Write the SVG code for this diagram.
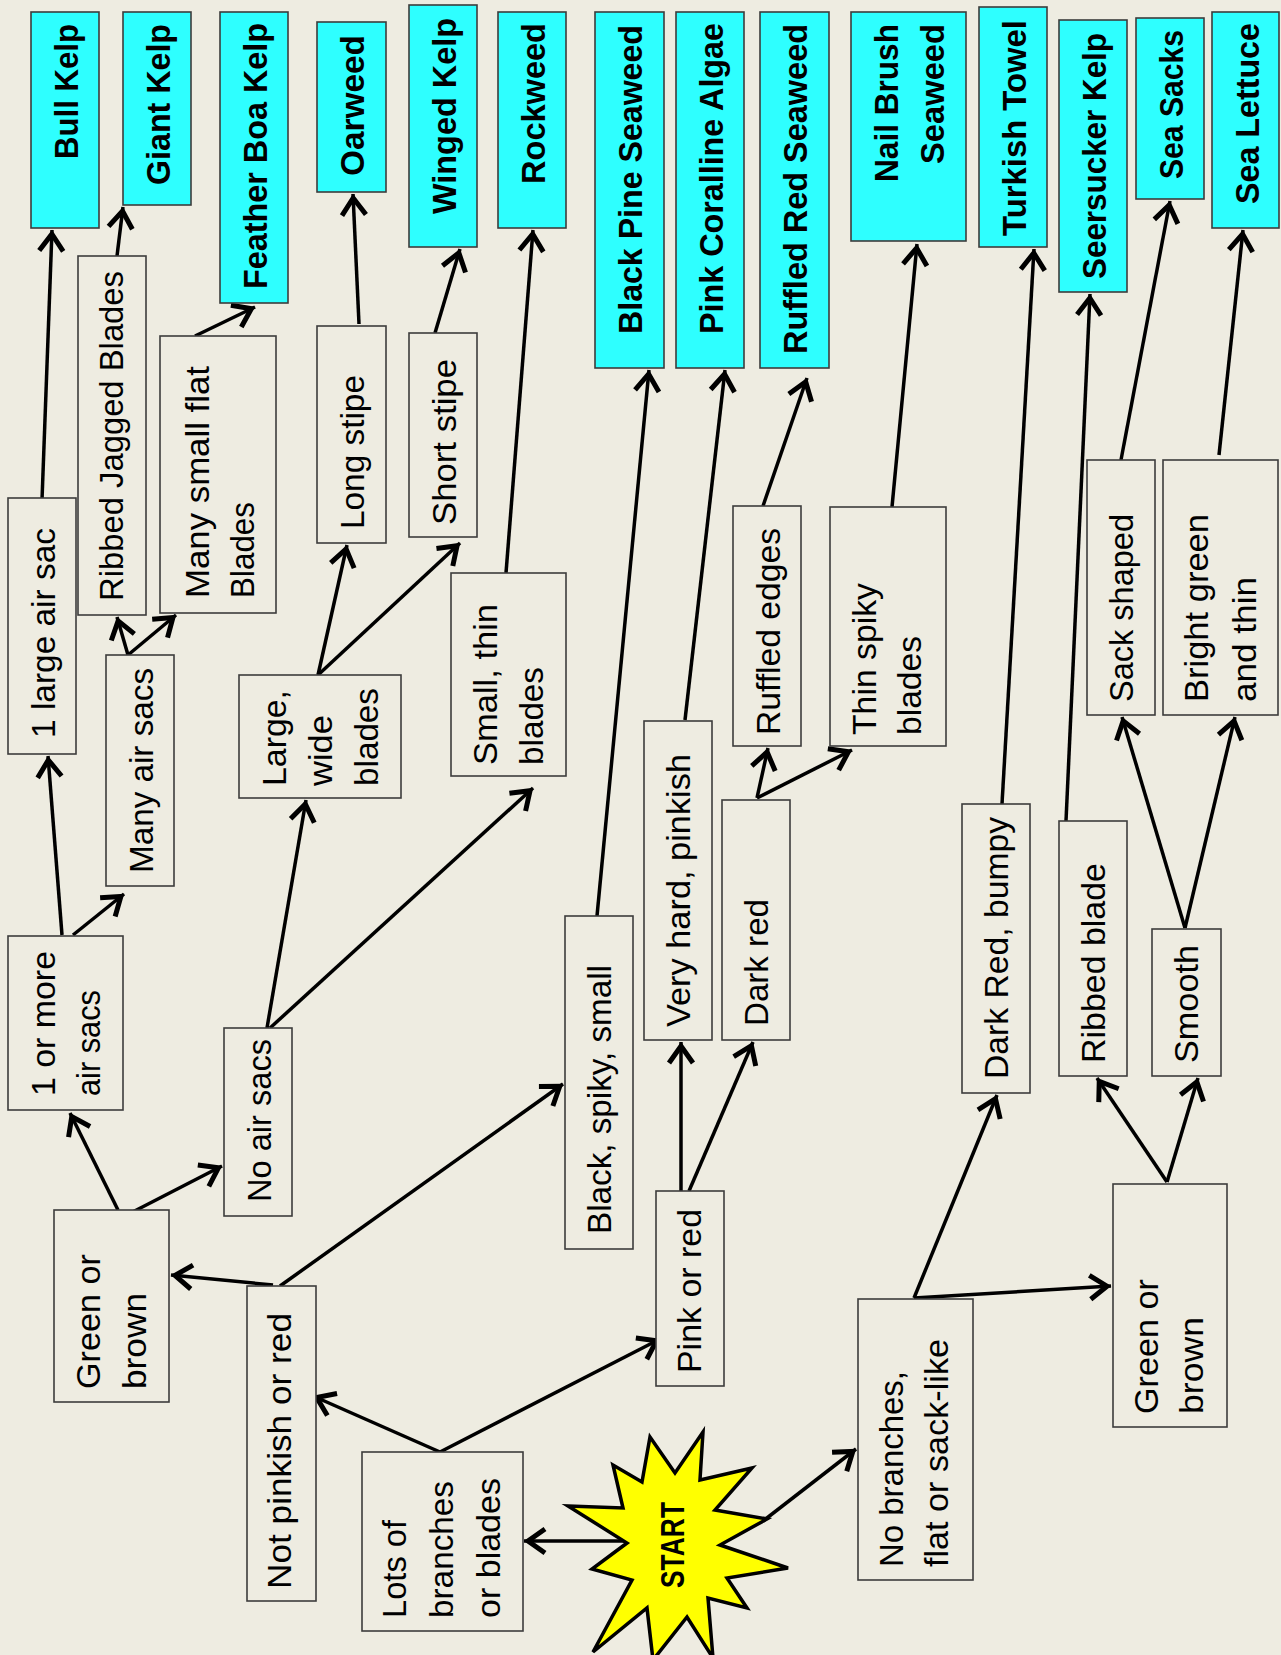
<svg xmlns="http://www.w3.org/2000/svg" width="1281" height="1655" viewBox="0 0 1281 1655">
<defs>
<style>
.box{fill:#EEECE1;stroke:#3c3c3c;stroke-width:1.6}
.leaf{fill:#2EFFFF;stroke:#3c3c3c;stroke-width:1.6}
.t{font-family:"Liberation Sans",Arial,sans-serif;font-size:33px;fill:#000}
.b{font-family:"Liberation Sans",Arial,sans-serif;font-size:33px;font-weight:bold;fill:#000}
.e{stroke:#000;stroke-width:3.5;fill:none;marker-end:url(#arr)}
</style>
<marker id="arr" markerUnits="userSpaceOnUse" viewBox="-30 -20 40 40" markerWidth="40" markerHeight="40" refX="0" refY="0" orient="auto">
<path d="M-21,-12 L-4,0 L-21,12" fill="none" stroke="#000" stroke-width="5"/>
</marker>
</defs>
<rect width="1281" height="1655" fill="#EEECE1"/>

<g id="connectors">
<line class="e" x1="42" y1="500" x2="52" y2="230"/>
<line class="e" x1="62" y1="935" x2="48" y2="756"/>
<line class="e" x1="73" y1="935" x2="124" y2="894"/>
<line class="e" x1="128" y1="655" x2="117" y2="617"/>
<line class="e" x1="128" y1="655" x2="176" y2="615"/>
<line class="e" x1="117" y1="256" x2="123" y2="207"/>
<line class="e" x1="195" y1="336" x2="255" y2="307"/>
<line class="e" x1="359" y1="324" x2="353" y2="194"/>
<line class="e" x1="435" y1="333" x2="460" y2="249"/>
<line class="e" x1="506" y1="573" x2="533" y2="230"/>
<line class="e" x1="597" y1="916" x2="649" y2="370"/>
<line class="e" x1="685" y1="720" x2="725" y2="370"/>
<line class="e" x1="763" y1="506" x2="807" y2="378"/>
<line class="e" x1="892" y1="507" x2="917" y2="244"/>
<line class="e" x1="1002" y1="804" x2="1034" y2="249"/>
<line class="e" x1="1066" y1="821" x2="1090" y2="294"/>
<line class="e" x1="1121" y1="460" x2="1170" y2="201"/>
<line class="e" x1="1219" y1="455" x2="1243" y2="230"/>
<line class="e" x1="1185" y1="928" x2="1122" y2="717"/>
<line class="e" x1="1185" y1="928" x2="1235" y2="717"/>
<line class="e" x1="757" y1="798" x2="768" y2="748"/>
<line class="e" x1="757" y1="798" x2="852" y2="750"/>
<line class="e" x1="318" y1="675" x2="347" y2="545"/>
<line class="e" x1="318" y1="675" x2="460" y2="543"/>
<line class="e" x1="267" y1="1028" x2="306" y2="800"/>
<line class="e" x1="270" y1="1028" x2="533" y2="788"/>
<line class="e" x1="118" y1="1210" x2="70" y2="1113"/>
<line class="e" x1="121" y1="1218" x2="222" y2="1166"/>
<line class="e" x1="273" y1="1285" x2="171" y2="1275"/>
<line class="e" x1="280" y1="1286" x2="563" y2="1084"/>
<line class="e" x1="440" y1="1452" x2="313" y2="1396"/>
<line class="e" x1="440" y1="1452" x2="660" y2="1339"/>
<line class="e" x1="681" y1="1191" x2="681" y2="1042"/>
<line class="e" x1="689" y1="1191" x2="753" y2="1042"/>
<line class="e" x1="627" y1="1541" x2="524" y2="1541"/>
<line class="e" x1="763" y1="1521" x2="856" y2="1449"/>
<line class="e" x1="914" y1="1298" x2="997" y2="1095"/>
<line class="e" x1="914" y1="1298" x2="1111" y2="1286"/>
<line class="e" x1="1167" y1="1182" x2="1097" y2="1078"/>
<line class="e" x1="1167" y1="1182" x2="1198" y2="1078"/>
</g>

<g id="n_bull"><rect class="leaf" x="31" y="12" width="68" height="216"/><text class="b" transform="translate(78,159) rotate(-90)" textLength="135" lengthAdjust="spacingAndGlyphs">Bull Kelp</text></g>
<g id="n_giant"><rect class="leaf" x="123" y="12" width="68" height="193"/><text class="b" transform="translate(170,185) rotate(-90)" textLength="161" lengthAdjust="spacingAndGlyphs">Giant Kelp</text></g>
<g id="n_feather"><rect class="leaf" x="220" y="12" width="68" height="291"/><text class="b" transform="translate(267,289) rotate(-90)" textLength="266" lengthAdjust="spacingAndGlyphs">Feather Boa Kelp</text></g>
<g id="n_oarweed"><rect class="leaf" x="317" y="22" width="69" height="170"/><text class="b" transform="translate(364,176) rotate(-90)" textLength="141" lengthAdjust="spacingAndGlyphs">Oarweed</text></g>
<g id="n_winged"><rect class="leaf" x="409" y="5" width="68" height="242"/><text class="b" transform="translate(456,214) rotate(-90)" textLength="196" lengthAdjust="spacingAndGlyphs">Winged Kelp</text></g>
<g id="n_rockweed"><rect class="leaf" x="498" y="12" width="68" height="216"/><text class="b" transform="translate(545,184) rotate(-90)" textLength="161" lengthAdjust="spacingAndGlyphs">Rockweed</text></g>
<g id="n_blackpine"><rect class="leaf" x="595" y="12" width="69" height="356"/><text class="b" transform="translate(642,334) rotate(-90)" textLength="309" lengthAdjust="spacingAndGlyphs">Black Pine Seaweed</text></g>
<g id="n_pinkcoralline"><rect class="leaf" x="676" y="12" width="68" height="356"/><text class="b" transform="translate(723,334) rotate(-90)" textLength="311" lengthAdjust="spacingAndGlyphs">Pink Coralline Algae</text></g>
<g id="n_ruffledred"><rect class="leaf" x="760" y="12" width="69" height="356"/><text class="b" transform="translate(807,354) rotate(-90)" textLength="330" lengthAdjust="spacingAndGlyphs">Ruffled Red Seaweed</text></g>
<g id="n_nailbrush"><rect class="leaf" x="851" y="12" width="115" height="229"/><text class="b" transform="translate(898,182) rotate(-90)" textLength="158" lengthAdjust="spacingAndGlyphs">Nail Brush</text><text class="b" transform="translate(944,164) rotate(-90)" textLength="140" lengthAdjust="spacingAndGlyphs">Seaweed</text></g>
<g id="n_turkish"><rect class="leaf" x="979" y="7" width="68" height="240"/><text class="b" transform="translate(1026,236) rotate(-90)" textLength="216" lengthAdjust="spacingAndGlyphs">Turkish Towel</text></g>
<g id="n_seersucker"><rect class="leaf" x="1059" y="20" width="68" height="272"/><text class="b" transform="translate(1106,279) rotate(-90)" textLength="246" lengthAdjust="spacingAndGlyphs">Seersucker Kelp</text></g>
<g id="n_seasacks"><rect class="leaf" x="1136" y="18" width="68" height="181"/><text class="b" transform="translate(1183,179) rotate(-90)" textLength="149" lengthAdjust="spacingAndGlyphs">Sea Sacks</text></g>
<g id="n_sealettuce"><rect class="leaf" x="1212" y="12" width="67" height="216"/><text class="b" transform="translate(1259,204) rotate(-90)" textLength="181" lengthAdjust="spacingAndGlyphs">Sea Lettuce</text></g>

<g id="n_1large"><rect class="box" x="8" y="498" width="68" height="256"/><text class="t" transform="translate(55,738) rotate(-90)" textLength="210" lengthAdjust="spacingAndGlyphs">1 large air sac</text></g>
<g id="n_ribbedjagged"><rect class="box" x="78" y="256" width="68" height="359"/><text class="t" transform="translate(123,601) rotate(-90)" textLength="330" lengthAdjust="spacingAndGlyphs">Ribbed Jagged Blades</text></g>
<g id="n_manysmall"><rect class="box" x="160" y="336" width="116" height="277"/><text class="t" transform="translate(209,598) rotate(-90)" textLength="232" lengthAdjust="spacingAndGlyphs">Many small flat</text><text class="t" transform="translate(254,598) rotate(-90)" textLength="96" lengthAdjust="spacingAndGlyphs">Blades</text></g>
<g id="n_longstipe"><rect class="box" x="317" y="326" width="69" height="217"/><text class="t" transform="translate(364,529) rotate(-90)" textLength="154" lengthAdjust="spacingAndGlyphs">Long stipe</text></g>
<g id="n_shortstipe"><rect class="box" x="409" y="333" width="68" height="204"/><text class="t" transform="translate(456,525) rotate(-90)" textLength="166" lengthAdjust="spacingAndGlyphs">Short stipe</text></g>
<g id="n_manyair"><rect class="box" x="106" y="655" width="68" height="231"/><text class="t" transform="translate(153,873) rotate(-90)" textLength="205" lengthAdjust="spacingAndGlyphs">Many air sacs</text></g>
<g id="n_1ormore"><rect class="box" x="8" y="936" width="115" height="174"/><text class="t" transform="translate(55,1096) rotate(-90)" textLength="145" lengthAdjust="spacingAndGlyphs">1 or more</text><text class="t" transform="translate(100,1096) rotate(-90)" textLength="106" lengthAdjust="spacingAndGlyphs">air sacs</text></g>
<g id="n_largewide"><rect class="box" x="239" y="675" width="162" height="123"/><text class="t" transform="translate(286,786) rotate(-90)" textLength="96" lengthAdjust="spacingAndGlyphs">Large,</text><text class="t" transform="translate(332,786) rotate(-90)" textLength="71" lengthAdjust="spacingAndGlyphs">wide</text><text class="t" transform="translate(378,786) rotate(-90)" textLength="98" lengthAdjust="spacingAndGlyphs">blades</text></g>
<g id="n_smallthin"><rect class="box" x="451" y="573" width="115" height="203"/><text class="t" transform="translate(497,765) rotate(-90)" textLength="161" lengthAdjust="spacingAndGlyphs">Small, thin</text><text class="t" transform="translate(543,765) rotate(-90)" textLength="98" lengthAdjust="spacingAndGlyphs">blades</text></g>
<g id="n_noair"><rect class="box" x="224" y="1028" width="68" height="188"/><text class="t" transform="translate(271,1202) rotate(-90)" textLength="163" lengthAdjust="spacingAndGlyphs">No air sacs</text></g>
<g id="n_greenbrown1"><rect class="box" x="54" y="1210" width="115" height="192"/><text class="t" transform="translate(100,1389) rotate(-90)" textLength="135" lengthAdjust="spacingAndGlyphs">Green or</text><text class="t" transform="translate(146,1389) rotate(-90)" textLength="96" lengthAdjust="spacingAndGlyphs">brown</text></g>
<g id="n_notpink"><rect class="box" x="247" y="1286" width="69" height="315"/><text class="t" transform="translate(291,1589) rotate(-90)" textLength="276" lengthAdjust="spacingAndGlyphs">Not pinkish or red</text></g>
<g id="n_lots"><rect class="box" x="362" y="1452" width="161" height="179"/><text class="t" transform="translate(406,1618) rotate(-90)" textLength="98" lengthAdjust="spacingAndGlyphs">Lots of</text><text class="t" transform="translate(453,1618) rotate(-90)" textLength="137" lengthAdjust="spacingAndGlyphs">branches</text><text class="t" transform="translate(500,1618) rotate(-90)" textLength="140" lengthAdjust="spacingAndGlyphs">or blades</text></g>
<g id="n_blackspiky"><rect class="box" x="565" y="916" width="68" height="333"/><text class="t" transform="translate(611,1234) rotate(-90)" textLength="269" lengthAdjust="spacingAndGlyphs">Black, spiky, small</text></g>
<g id="n_veryhard"><rect class="box" x="644" y="721" width="68" height="319"/><text class="t" transform="translate(690,1027) rotate(-90)" textLength="273" lengthAdjust="spacingAndGlyphs">Very hard, pinkish</text></g>
<g id="n_darkred"><rect class="box" x="722" y="800" width="68" height="240"/><text class="t" transform="translate(768,1026) rotate(-90)" textLength="127" lengthAdjust="spacingAndGlyphs">Dark red</text></g>
<g id="n_pinkred"><rect class="box" x="656" y="1191" width="68" height="195"/><text class="t" transform="translate(701,1373) rotate(-90)" textLength="164" lengthAdjust="spacingAndGlyphs">Pink or red</text></g>
<g id="n_ruffledges"><rect class="box" x="733" y="506" width="68" height="240"/><text class="t" transform="translate(780,735) rotate(-90)" textLength="207" lengthAdjust="spacingAndGlyphs">Ruffled edges</text></g>
<g id="n_thinspiky"><rect class="box" x="830" y="507" width="116" height="239"/><text class="t" transform="translate(876,735) rotate(-90)" textLength="152" lengthAdjust="spacingAndGlyphs">Thin spiky</text><text class="t" transform="translate(921,735) rotate(-90)" textLength="99" lengthAdjust="spacingAndGlyphs">blades</text></g>
<g id="n_darkredbumpy"><rect class="box" x="962" y="804" width="68" height="289"/><text class="t" transform="translate(1008,1079) rotate(-90)" textLength="262" lengthAdjust="spacingAndGlyphs">Dark Red, bumpy</text></g>
<g id="n_ribbedblade"><rect class="box" x="1059" y="821" width="68" height="255"/><text class="t" transform="translate(1105,1063) rotate(-90)" textLength="200" lengthAdjust="spacingAndGlyphs">Ribbed blade</text></g>
<g id="n_smooth"><rect class="box" x="1152" y="929" width="69" height="147"/><text class="t" transform="translate(1198,1063) rotate(-90)" textLength="118" lengthAdjust="spacingAndGlyphs">Smooth</text></g>
<g id="n_sack"><rect class="box" x="1087" y="460" width="68" height="255"/><text class="t" transform="translate(1133,702) rotate(-90)" textLength="188" lengthAdjust="spacingAndGlyphs">Sack shaped</text></g>
<g id="n_bright"><rect class="box" x="1163" y="460" width="115" height="255"/><text class="t" transform="translate(1208,702) rotate(-90)" textLength="188" lengthAdjust="spacingAndGlyphs">Bright green</text><text class="t" transform="translate(1256,702) rotate(-90)" textLength="125" lengthAdjust="spacingAndGlyphs">and thin</text></g>
<g id="n_nobranches"><rect class="box" x="858" y="1299" width="115" height="281"/><text class="t" transform="translate(903,1567) rotate(-90)" textLength="196" lengthAdjust="spacingAndGlyphs">No branches,</text><text class="t" transform="translate(948,1567) rotate(-90)" textLength="228" lengthAdjust="spacingAndGlyphs">flat or sack-like</text></g>
<g id="n_greenbrown2"><rect class="box" x="1113" y="1184" width="114" height="243"/><text class="t" transform="translate(1158,1414) rotate(-90)" textLength="135" lengthAdjust="spacingAndGlyphs">Green or</text><text class="t" transform="translate(1203,1414) rotate(-90)" textLength="97" lengthAdjust="spacingAndGlyphs">brown</text></g>

<g id="n_start"><polygon points="650,1437 675,1473 703,1432 700,1480 752,1468 715,1510 767,1519 720,1545 788,1568 727,1578 747,1608 708,1598 713,1658 687,1617 653,1660 647,1608 593,1652 632,1580 592,1569 627,1543 568,1506 623,1508 613,1465 642,1482" fill="#FFFF00" stroke="#000" stroke-width="3.5" stroke-linejoin="miter"/><text class="b" font-size="30" transform="translate(684,1588) rotate(-90)" textLength="86" lengthAdjust="spacingAndGlyphs">START</text></g>
</svg>
